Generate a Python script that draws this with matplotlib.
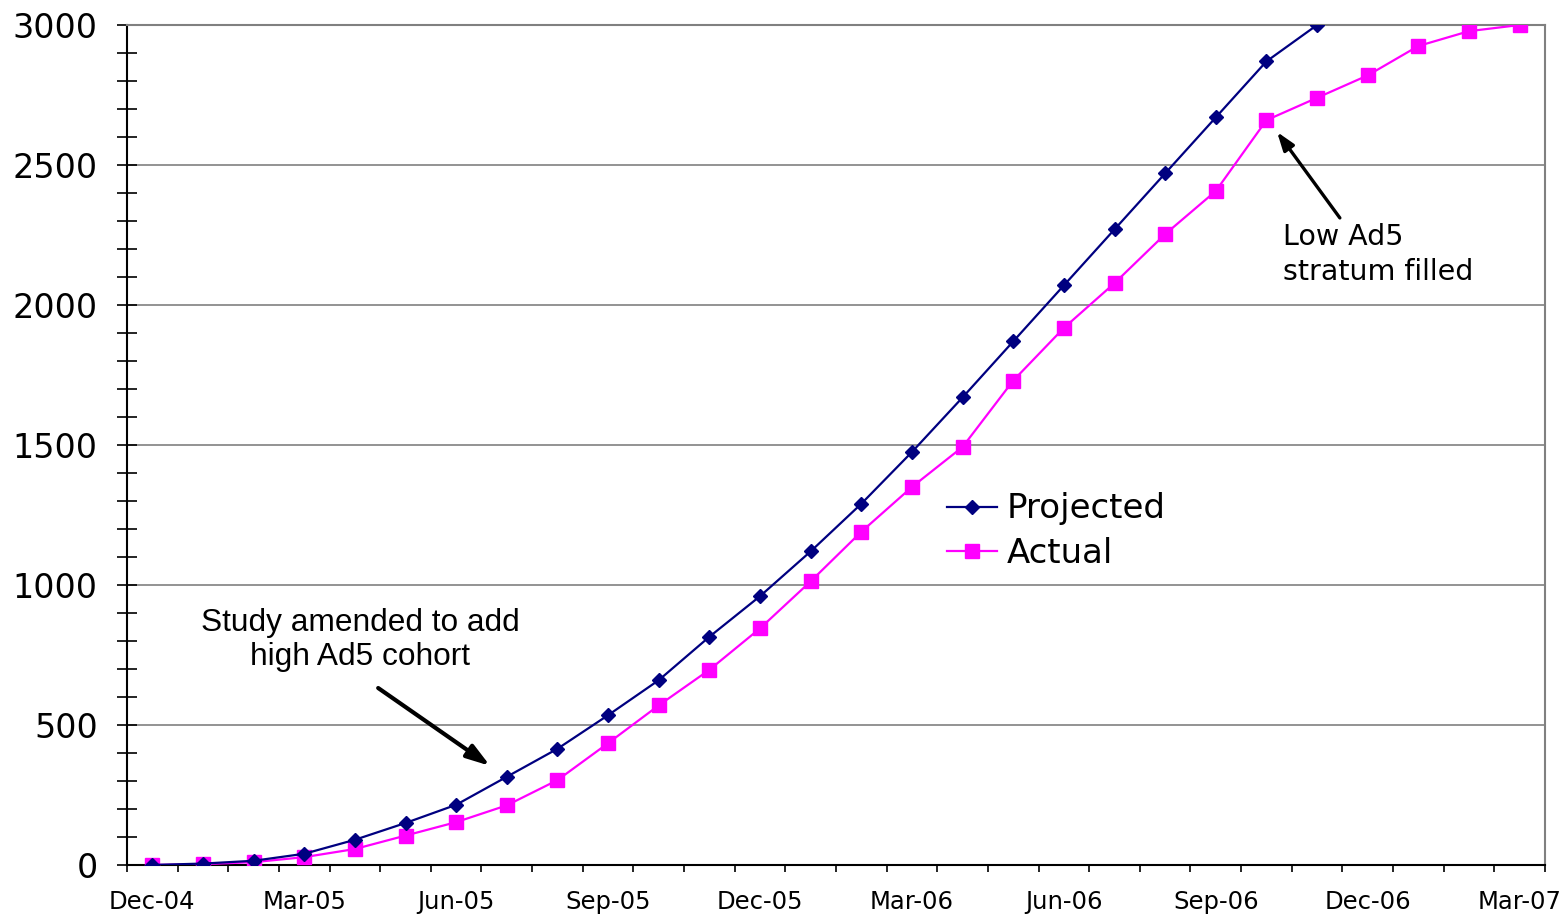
import numpy as np
import matplotlib.pyplot as plt
from matplotlib.ticker import MultipleLocator

# =============================================================================
# Data
# =============================================================================

months = ['Dec-04', 'Jan-05', 'Feb-05', 'Mar-05', 'Apr-05', 'May-05', 'Jun-05',
          'Jul-05', 'Aug-05', 'Sep-05', 'Oct-05', 'Nov-05', 'Dec-05', 'Jan-06',
          'Feb-06', 'Mar-06', 'Apr-06', 'May-06', 'Jun-06', 'Jul-06', 'Aug-06',
          'Sep-06', 'Oct-06', 'Nov-06', 'Dec-06', 'Jan-07', 'Feb-07', 'Mar-07']

projected = [0, 5, 15, 40, 90, 150, 215, 315, 415, 535, 660, 815, 960, 1120,
             1290, 1475, 1670, 1870, 2070, 2270, 2470, 2670, 2870, 3000]

actual = [0, 3, 10, 28, 57, 105, 153, 213, 303, 435, 570, 697, 845, 1013,
          1190, 1350, 1493, 1730, 1918, 2078, 2253, 2407, 2660, 2740, 2820,
          2925, 2978, 3000]

label_every = 3

# =============================================================================
# Plot
# =============================================================================

plt.rcParams['font.family'] = ['DejaVu Sans']

fig, ax = plt.subplots(figsize=(15.68, 9.16), dpi=100)
fig.subplots_adjust(left=0.081, right=0.9853, top=0.9727, bottom=0.0557)

x_proj = np.arange(len(projected))
x_act = np.arange(len(actual))

ax.plot(x_proj, projected, color='#000080', lw=1.6, marker='D', markersize=7,
        label='Projected', zorder=4)
ax.plot(x_act, actual, color='#FF00FF', lw=1.6, marker='s', markersize=10,
        label='Actual', zorder=3)

ax.set_xlim(-0.5, len(months) - 0.5)
ax.set_ylim(0, 3000)

# x axis: boundary ticks as minor, labels at category centres
ax.set_xticks(np.arange(-0.5, len(months), 1), minor=True)
lab_idx = np.arange(0, len(months), label_every)
ax.set_xticks(lab_idx)
ax.set_xticklabels([months[i] for i in lab_idx], fontsize=17.5)
ax.tick_params(axis='x', which='major', length=0, pad=18)
ax.tick_params(axis='x', which='minor', direction='out', length=5, width=1.2)

# y axis
ax.yaxis.set_major_locator(MultipleLocator(500))
ax.yaxis.set_minor_locator(MultipleLocator(100))
ax.tick_params(axis='y', which='both', direction='inout', length=14, width=1.2)
ax.tick_params(axis='y', which='major', labelsize=24, pad=14)

ax.grid(True, axis='y', which='major', color='#808080', lw=1.2)
ax.set_axisbelow(True)

for s in ['top', 'right']:
    ax.spines[s].set_color('#808080')
    ax.spines[s].set_linewidth(1.5)
for s in ['left', 'bottom']:
    ax.spines[s].set_color('black')
    ax.spines[s].set_linewidth(1.5)

ax.legend(loc='upper left', bbox_to_anchor=(0.557, 0.48), frameon=False,
          fontsize=24.5, handlelength=1.45, handletextpad=0.3, labelspacing=0.35)

# Annotations
ax.text(4.1, 804, 'Study amended to add\nhigh Ad5 cohort', fontsize=22.8,
        family='Liberation Sans', ha='center', va='center', linespacing=1.15)
ax.annotate('', xy=(6.67, 354), xytext=(4.46, 632),
            arrowprops=dict(arrowstyle='-|>,head_length=1.4,head_width=0.45',
                            color='black', lw=3, shrinkA=0, shrinkB=0))
ax.annotate('', xy=(22.21, 2618), xytext=(23.45, 2311),
            arrowprops=dict(arrowstyle='-|>,head_length=1.1,head_width=0.38',
                            color='black', lw=2.4, shrinkA=0, shrinkB=0))
ax.text(22.33, 2180, 'Low Ad5\nstratum filled', fontsize=20.5, ha='left', va='center',
        linespacing=1.3)

plt.savefig('out.png', dpi=100)
